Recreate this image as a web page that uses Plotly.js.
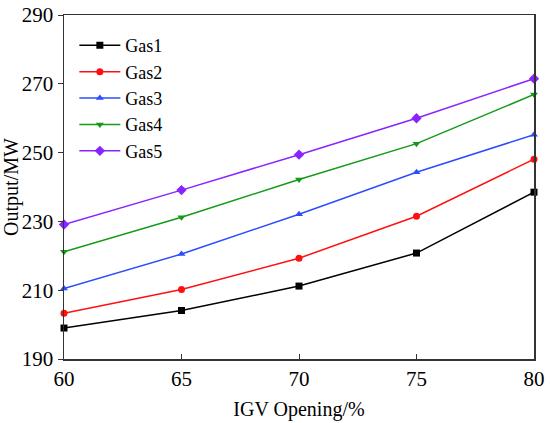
<!DOCTYPE html>
<html>
<head>
<meta charset="utf-8">
<script src="https://cdn.plot.ly/plotly-3.0.1.min.js"></script>
<style>html,body{margin:0;padding:0;background:#fff;}#chart{width:550px;height:423px;}</style>
</head>
<body>
<div id="chart"></div>
<script>
const igvOpening = [60, 65, 70, 75, 80];
const gas1 = [199.0, 204.1, 211.2, 220.8, 238.5];
const gas2 = [203.3, 210.2, 219.3, 231.5, 248.1];
const gas3 = [210.5, 220.5, 232.1, 244.3, 255.2];
const gas4 = [221.2, 231.2, 242.2, 252.6, 266.9];
const gas5 = [229.1, 239.1, 249.4, 260.0, 271.5];
const seriesNames = ['Gas1', 'Gas2', 'Gas3', 'Gas4', 'Gas5'];
const xTicks = [60, 65, 70, 75, 80];
const yTicks = [190, 210, 230, 250, 270, 290];

const colors = ['#000000', '#ff1010', '#2a4dff', '#139a19', '#8a24ff'];
const symbols = ['square', 'circle', 'triangle-up', 'triangle-down', 'diamond'];
const allSeries = [gas1, gas2, gas3, gas4, gas5];

const traces = allSeries.map((ys, i) => ({
  x: igvOpening,
  y: ys,
  name: seriesNames[i],
  type: 'scatter',
  mode: 'lines+markers',
  line: {color: colors[i], width: 1.5},
  marker: {color: colors[i], symbol: symbols[i], size: i === 4 ? 8 : 7},
  cliponaxis: false
}));

const family = '"Liberation Serif", "Times New Roman", serif';
const tickFont = {family: family, size: 21, color: '#000'};
const titleFont = {family: family, size: 20, color: '#000'};

const layout = {
  width: 550,
  height: 423,
  margin: {l: 64, r: 16, t: 15, b: 64},
  paper_bgcolor: '#fff',
  plot_bgcolor: '#fff',
  font: titleFont,
  showlegend: true,
  legend: {
    x: 0.022, y: 0.965, xanchor: 'left', yanchor: 'top',
    bgcolor: 'rgba(0,0,0,0)',
    font: {family: family, size: 18, color: '#000'},
    itemwidth: 41,
    tracegroupgap: 0
  },
  xaxis: {
    range: [60, 80],
    tickvals: xTicks,
    ticktext: xTicks.map(String),
    ticks: 'inside',
    ticklen: 5,
    tickwidth: 1,
    tickcolor: '#333',
    showline: true,
    linecolor: '#333',
    linewidth: 1.5,
    mirror: true,
    showgrid: false,
    zeroline: false,
    tickfont: tickFont,
    title: {text: 'IGV Opening/%', font: titleFont, standoff: 12}
  },
  yaxis: {
    range: [190, 290],
    tickvals: yTicks,
    ticktext: yTicks.map(String),
    ticks: 'outside',
    ticklen: 5,
    tickwidth: 1,
    tickcolor: '#333',
    showline: true,
    linecolor: '#333',
    linewidth: 1.5,
    mirror: true,
    showgrid: false,
    zeroline: false,
    tickfont: tickFont,
    title: {text: 'Output/MW', font: titleFont, standoff: 1}
  }
};

Plotly.newPlot('chart', traces, layout, {displayModeBar: false, staticPlot: true});
</script>
</body>
</html>
